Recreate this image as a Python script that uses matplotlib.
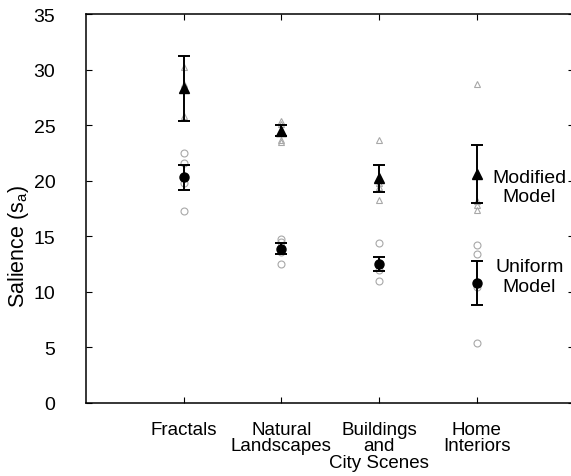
import matplotlib
matplotlib.use("Agg")
import matplotlib.pyplot as plt
import numpy as np

plt.rcParams['font.family'] = ['Liberation Sans', 'DejaVu Sans']
plt.rcParams['mathtext.fontset'] = 'custom'
plt.rcParams['mathtext.rm'] = 'Liberation Sans'
plt.rcParams['mathtext.it'] = 'Liberation Sans'

categories = ["Fractals", "Natural\nLandscapes", "Buildings\nand\nCity Scenes", "Home\nInteriors"]
modified_mean = [28.3, 24.5, 20.2, 20.6]
modified_err = [2.95, 0.5, 1.2, 2.6]
uniform_mean = [20.3, 13.9, 12.5, 10.8]
uniform_err = [1.1, 0.5, 0.6, 2.0]
modified_points = [[30.2, 25.8, 28.5, 28.7],
                   [25.4, 25.1, 23.7, 23.5],
                   [23.7, 19.8, 19.4, 18.3],
                   [28.7, 18.2, 17.8, 17.4]]
uniform_points = [[22.5, 21.6, 17.3, 19.8],
                  [14.8, 14.5, 13.6, 12.5],
                  [14.4, 12.6, 12.0, 11.0],
                  [14.2, 13.4, 10.4, 5.4]]
yticks = [0, 5, 10, 15, 20, 25, 30, 35]

fig = plt.figure(figsize=(5.71, 4.77), dpi=100)
ax = fig.add_axes([86/571, 1-404/477, 488.5/571, (404-15)/477])

x = np.arange(1, len(categories)+1)
for xi, pts in zip(x, modified_points):
    ax.plot([xi]*len(pts), pts, linestyle='none', marker='^', markersize=5,
            markerfacecolor='none', markeredgecolor='#a8a8a8', markeredgewidth=0.8, zorder=2)
for xi, pts in zip(x, uniform_points):
    ax.plot([xi]*len(pts), pts, linestyle='none', marker='o', markersize=5,
            markerfacecolor='none', markeredgecolor='#a8a8a8', markeredgewidth=0.8, zorder=2)

ax.errorbar(x, modified_mean, yerr=modified_err, fmt='^', color='black',
            markersize=7, capsize=4.5, elinewidth=1.4, capthick=1.4, zorder=3)
ax.errorbar(x, uniform_mean, yerr=uniform_err, fmt='o', color='black',
            markersize=6.5, capsize=4.5, elinewidth=1.4, capthick=1.4, zorder=3)

ax.set_xlim(0, 5)
ax.set_ylim(0, 35)
ax.set_yticks(yticks)
ax.set_xticks(x)
ax.set_xticklabels(categories, fontsize=13.5, linespacing=0.95, va='top')
ax.tick_params(axis='y', labelsize=14, direction='in', length=4, right=True, pad=22)
ax.tick_params(axis='x', direction='in', length=4, top=True, pad=13)
ax.set_ylabel(r'Salience (s$_{\mathregular{a}}$)', fontsize=15.5)
ax.yaxis.set_label_coords(-0.112, 0.406)

for s in ax.spines.values():
    s.set_linewidth(1.1)

ax.text(4.54, 19.45, "Modified\nModel", fontsize=14, ha='center', va='center', linespacing=1.2)
ax.text(4.54, 11.4, "Uniform\nModel", fontsize=14, ha='center', va='center', linespacing=1.2)

fig.savefig("out.png", dpi=100)
